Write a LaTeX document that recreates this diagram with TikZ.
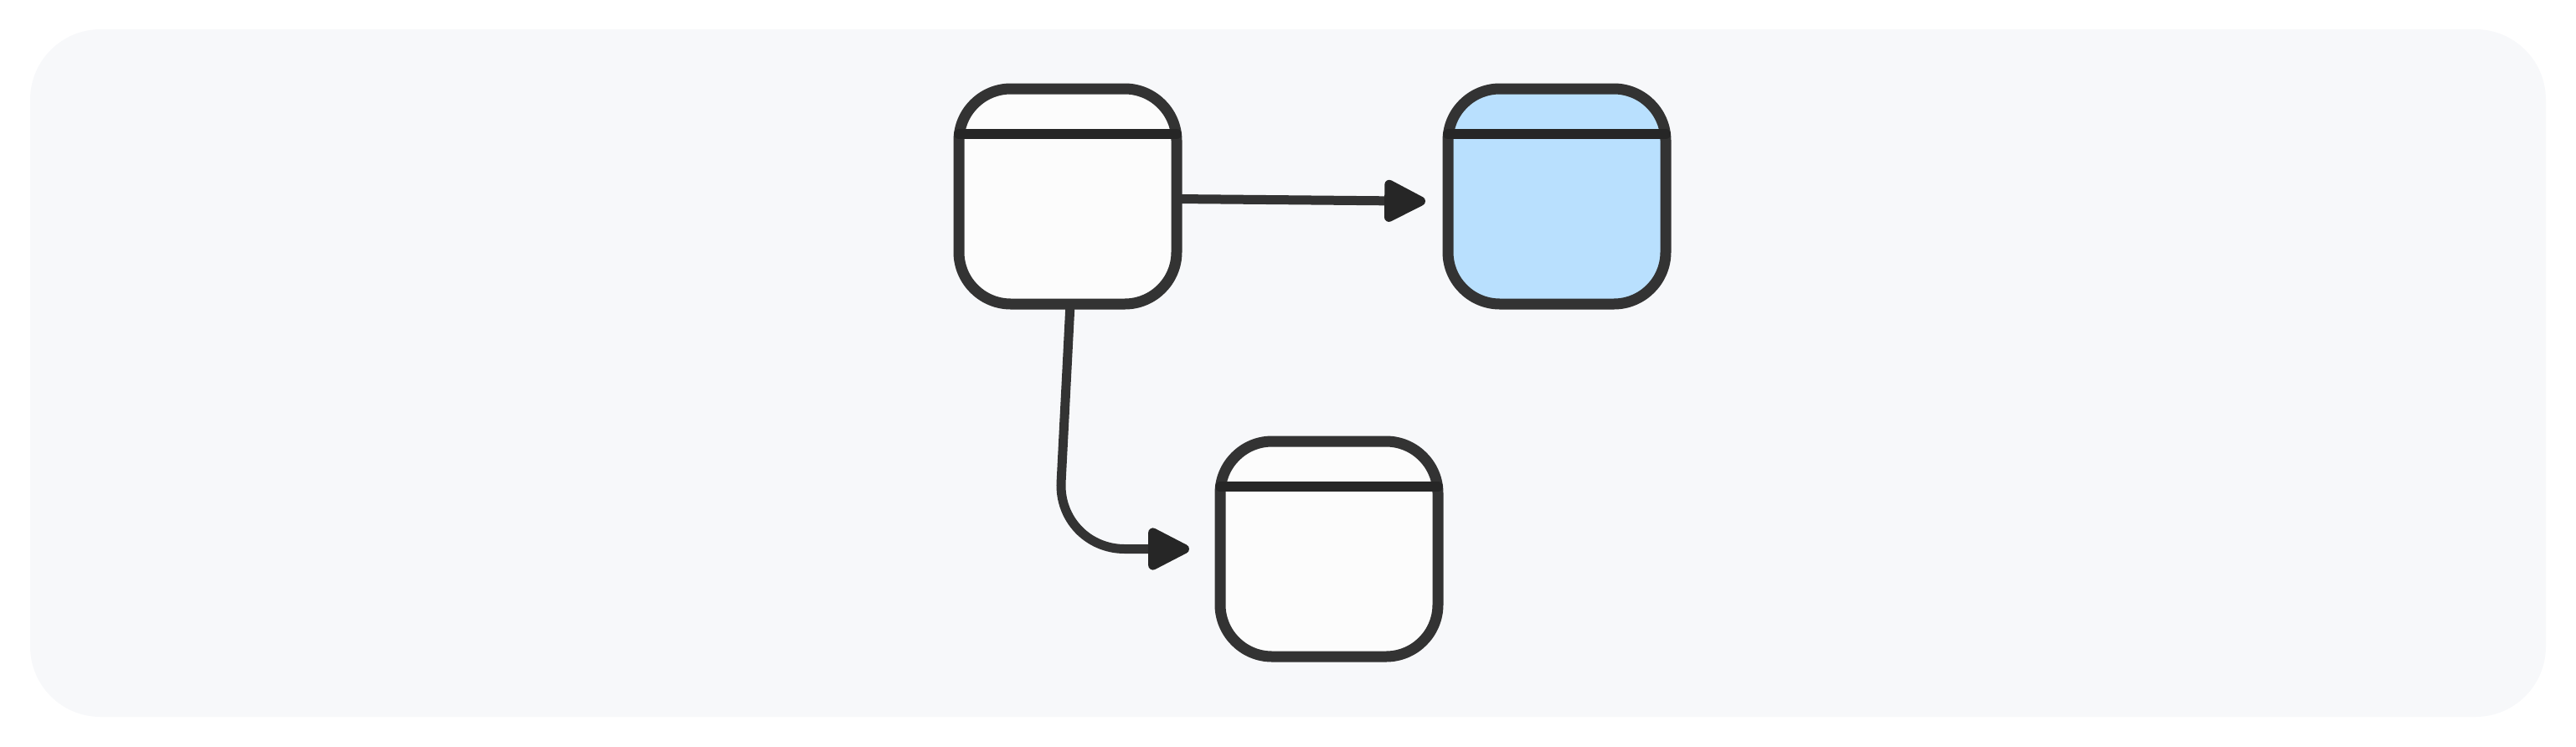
\documentclass[tikz,border=0pt]{standalone}
\usetikzlibrary{positioning, arrows.meta}
\definecolor{pagebg}{RGB}{247,248,250}
\definecolor{edgegray}{RGB}{51,51,51}
\definecolor{fillblue}{RGB}{185,224,254}
\tikzset{card/.style={draw=edgegray, line width=0.13cm, rounded corners=0.62cm, minimum width=2.6cm, minimum height=2.57cm, inner sep=0pt, outer sep=0pt, fill=white!99!black}}
\tikzset{arr/.style={draw=edgegray, line width=0.11cm, line cap=round, -{Triangle[length=0.56cm, width=0.54cm, round, color=black!85]}}}
\newcommand\cardhead[1]{
		\draw[black!85, line width=0.12cm, line cap=round] ([yshift=-0.54cm]#1.north west) -- ([yshift=-0.54cm]#1.north east);
	}

\begin{document}
\begin{tikzpicture}
			\useasboundingbox (0,0) rectangle (30.76,-8.91);
			\fill[pagebg, rounded corners=0.84cm] (0.36,-0.35) rectangle (30.40,-8.56);

			\node[card] (b1) at (12.75,-2.345) {};
			\node[card, fill=fillblue, right=3.24 of b1] (b2) {};
			\node[card, below right=1.64 and 0.52 of b1] (b3) {};

			\cardhead{b1}
			\cardhead{b2}
			\cardhead{b3}

			\draw[arr, shorten >=0.27cm] ([yshift=-0.03cm]b1.east) -- ([yshift=-0.06cm]b2.west);
			\draw[arr, rounded corners=0.8cm, shorten >=0.37cm] ([xshift=0.03cm]b1.south) -- ([xshift=-0.12cm]b1.south |- b3.west) -- (b3.west);
		\end{tikzpicture}
\end{document}
